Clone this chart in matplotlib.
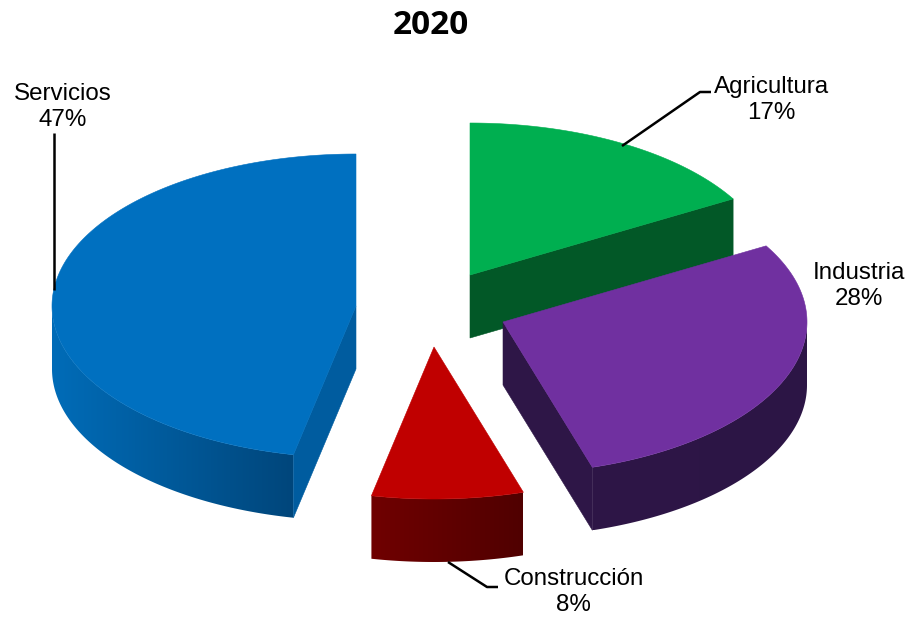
#!/usr/bin/env python3
"""Exploded 3D-style pie of the 2020 shares by sector."""

import matplotlib

matplotlib.use("Agg")
import matplotlib.pyplot as plt
import numpy as np
from matplotlib.colors import to_rgb
from matplotlib.patches import Polygon

TITLE = "2020"
sectors = ["Agricultura", "Industria", "Construcción", "Servicios"]
shown_pct = [17, 28, 8, 47]
# slightly finer than the printed labels, read from the slice edges
slice_share = [16.65, 28.6, 8.05, 46.7]

top_colors = ["#00AF50", "#7030A0", "#C00000", "#0070C0"]
face_colors = ["#025827", "#2E1647", "#5E0000", "#005C9F"]
wall_left = ["#025827", "#2E1647", "#700000", "#006CB8"]
wall_right = ["#025827", "#2C1545", "#500000", "#00467B"]

# layout, in pixels
centers = [(470, 275), (503, 322), (434, 347), (356, 306)]
RX, RY, DEPTH = 304, 152, 63


def arc(center, start, stop, n=200):
    # angles run clockwise from 12 o'clock
    theta = np.radians(np.linspace(start, stop, n))
    return center[0] + RX * np.sin(theta), center[1] - RY * np.cos(theta)


def draw_wall(ax, center, start, stop, left, right, z):
    # only the part of the rim below the centre line can be seen
    start, stop = max(start, 90), min(stop, 270)
    if start >= stop:
        return
    x, y = arc(center, start, stop)
    outline = np.column_stack([np.r_[x, x[::-1]], np.r_[y, y[::-1] + DEPTH]])
    c_left, c_right = np.array(to_rgb(left)), np.array(to_rgb(right))
    ramp = np.linspace(0, 1, 256)[None, :, None]
    image = ax.imshow(
        c_left + (c_right - c_left) * ramp,
        extent=[x.min(), x.max(), y.max() + DEPTH, y.min()],
        aspect="auto",
        interpolation="bilinear",
        zorder=z,
    )
    patch = Polygon(outline, closed=True, transform=ax.transData)
    image.set_clip_path(patch)


def draw_slice(ax, center, start, stop, top, face, left, right, z):
    draw_wall(ax, center, start, stop, left, right, z)
    x, y = arc(center, start, stop)

    # cut faces that turn towards the viewer
    if np.sin(np.radians(stop)) > 0.01:
        ax.fill(
            [center[0], x[-1], x[-1], center[0]],
            [center[1], y[-1], y[-1] + DEPTH, center[1] + DEPTH],
            facecolor=face,
            edgecolor=face,
            linewidth=0.4,
            zorder=z + 1,
        )
    if np.sin(np.radians(start)) < -0.01:
        ax.fill(
            [center[0], x[0], x[0], center[0]],
            [center[1], y[0], y[0] + DEPTH, center[1] + DEPTH],
            facecolor=face,
            edgecolor=face,
            linewidth=0.4,
            zorder=z + 1,
        )

    ax.fill(
        np.r_[center[0], x],
        np.r_[center[1], y],
        facecolor=top,
        edgecolor=top,
        linewidth=0.4,
        zorder=z + 2,
    )


def main():
    fig = plt.figure(figsize=(9.07, 6.17), dpi=100)
    ax = fig.add_axes([0, 0, 1, 1])

    edges = np.r_[0, np.cumsum(slice_share)] / sum(slice_share) * 360
    for i in range(len(sectors)):
        draw_slice(
            ax,
            centers[i],
            edges[i],
            edges[i + 1],
            top_colors[i],
            face_colors[i],
            wall_left[i],
            wall_right[i],
            10 * (i + 1),
        )

    ax.set_xlim(0, 907)
    ax.set_ylim(617, 0)
    ax.axis("off")

    # leader lines
    leader = dict(
        color="black",
        linewidth=1.8,
        solid_capstyle="butt",
        solid_joinstyle="round",
        zorder=60,
    )
    ax.plot([622, 700, 711], [146, 92, 92], **leader)
    ax.plot([448, 487, 498], [562, 587, 587], **leader)
    ax.plot([54, 54], [133, 290], **leader)

    label_pos = [(771.5, 100), (858.5, 286), (573.5, 592), (63, 107)]
    for name, pct, (lx, ly) in zip(sectors, shown_pct, label_pos):
        ax.text(
            lx,
            ly,
            f"{name}\n{pct}%",
            family="Liberation Sans",
            fontsize=17.4,
            ha="center",
            va="center",
            linespacing=1.24,
            color="black",
            zorder=70,
        )

    ax.text(
        431,
        26,
        TITLE,
        family="Open Sans",
        fontweight="bold",
        fontsize=24,
        ha="center",
        va="center",
        color="black",
        zorder=70,
    )

    fig.savefig("out.png", dpi=100)
    plt.close(fig)


if __name__ == "__main__":
    main()
